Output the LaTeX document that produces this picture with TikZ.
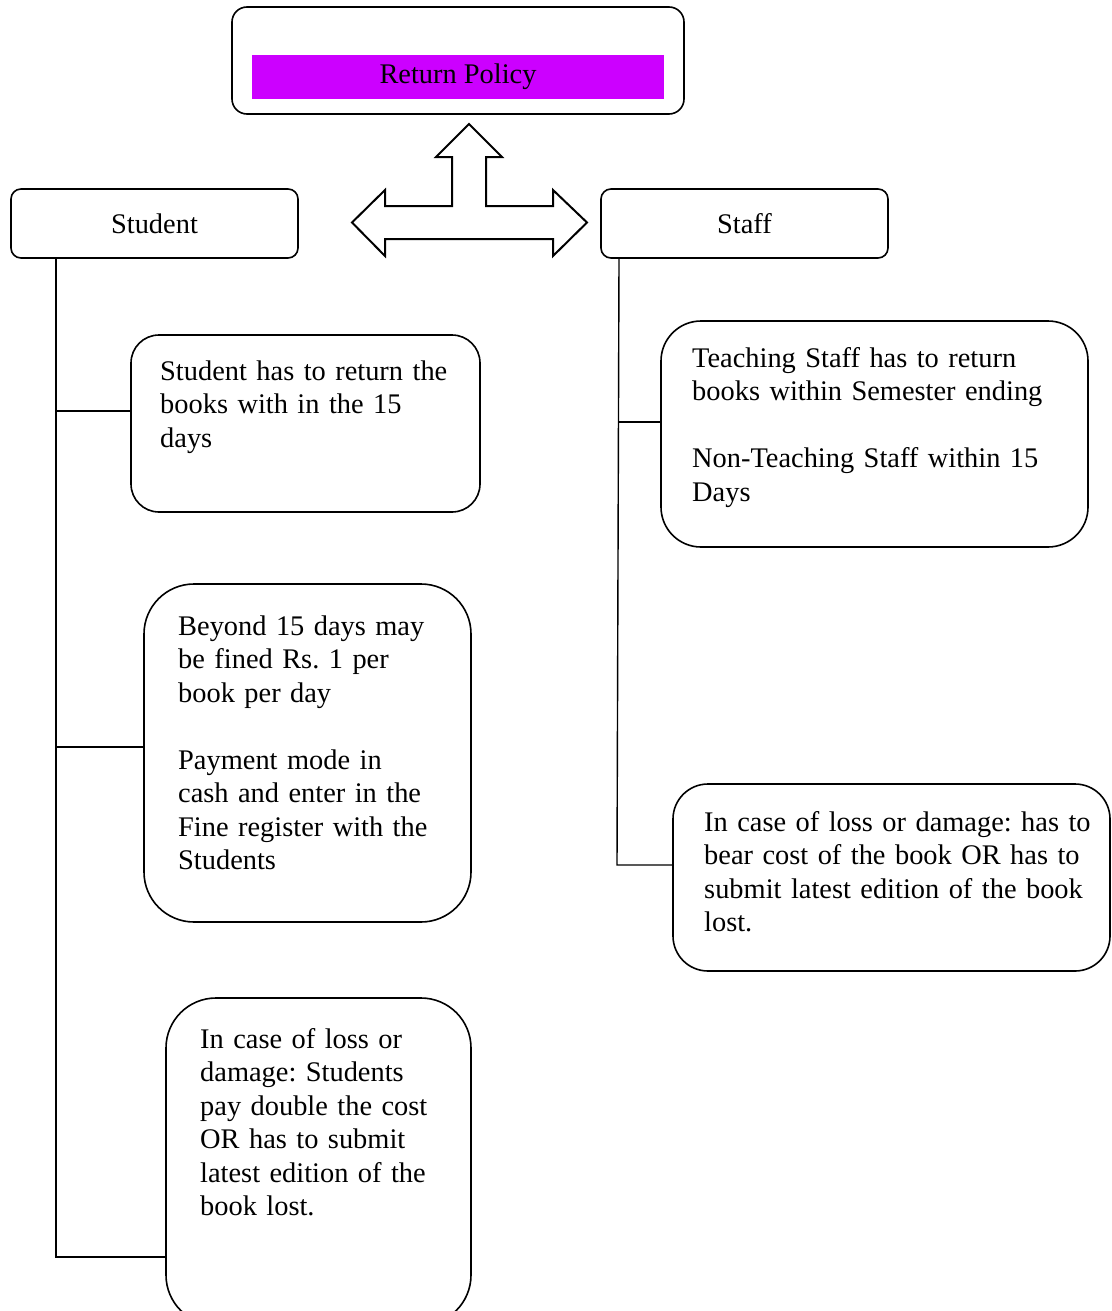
\documentclass[tikz,border=0pt]{standalone}
\usepackage{fontspec}
\setmainfont{Liberation Serif}
\frenchspacing
\definecolor{policy}{RGB}{204,0,255}
\begin{document}
\begin{tikzpicture}[x=1pt,y=-1pt,
  box/.style={draw, line width=1.6pt, inner sep=0pt},
  bigfont/.style={font=\fontsize{28.4}{33.5}\selectfont\frenchspacing},
  txt/.style={bigfont, align=left, text width=420pt, inner sep=0pt, anchor=base west},
  conn/.style={line width=1.4pt}]
\clip (0,0) rectangle (1111,1311);
\fill[white] (0,0) rectangle (1111,1311);
% title
\node[box, rounded corners=15pt, minimum width=452pt, minimum height=107pt] (top) at (458,60.5) {};
\node[fill=policy, minimum width=412pt, minimum height=44pt, inner sep=0pt, bigfont] (title) at (458,77) {Return Policy};
% category boxes
\node[box, rounded corners=10pt, minimum width=287pt, minimum height=69pt, bigfont] (stud) at (154.5,223.5) {Student};
\node[box, rounded corners=10pt, minimum width=287pt, minimum height=69pt, bigfont] (staff) at (744.5,223.5) {Staff};
% three-way arrow
\draw[line width=2pt, line join=miter] (469,124) -- (502,157) -- (486,157) -- (486,206) -- (553,206) -- (553,190) -- (587,222.5) -- (553,256) -- (553,239) -- (385,239) -- (385,256) -- (352,222.5) -- (385,190) -- (385,206) -- (452,206) -- (452,157) -- (436,157) -- cycle;
% detail boxes
\node[box, rounded corners=28pt, minimum width=349pt, minimum height=177pt] (b1) at (305.5,423.5) {};
\node[box, rounded corners=50pt, minimum width=327pt, minimum height=338pt] (b2) at (307.5,753) {};
\node[box, rounded corners=50pt, minimum width=305pt, minimum height=327pt] (b3) at (318.5,1161.5) {};
\node[box, rounded corners=40pt, minimum width=427pt, minimum height=226pt] (b4) at (874.5,434) {};
\node[box, rounded corners=35pt, minimum width=437pt, minimum height=187pt] (b5) at (891.5,877.5) {};
% texts
\node[txt] (t1) at (160,380) {Student has to return the\\books with in the 15\\days};
\node[txt] (t2) at (178,635) {Beyond 15 days may\\be fined Rs. 1 per\\book per day\\[33.5pt]Payment mode in\\cash and enter in the\\Fine register with the\\Students};
\node[txt] (t3) at (200,1048) {In case of loss or\\damage: Students\\pay double the cost\\OR has to submit\\latest edition of the\\book lost.};
\node[txt] (t4) at (692,367) {Teaching Staff has to return\\books within Semester ending\\[33.5pt]Non-Teaching Staff within 15\\Days};
\node[txt] (t5) at (704,831) {In case of loss or damage: has to\\bear cost of the book OR has to\\submit latest edition of the book\\lost.};
% connectors: student side
\coordinate (sB) at (56,1257);
\coordinate (j1) at (56,411);
\coordinate (j2) at (56,747);
\draw[conn] (stud.south -| sB) -- (sB) -- (sB -| b3.west);
\draw[conn] (j1) -- (j1 -| b1.west);
\draw[conn] (j2) -- (j2 -| b2.west);
% connectors: staff side
\coordinate (fA) at (619,258);
\coordinate (fB) at (617,865);
\coordinate (j3) at (618.5,422);
\draw[conn] (staff.south -| fA) -- (fB) -- (fB -| b5.west);
\draw[conn] (j3) -- (j3 -| b4.west);
\end{tikzpicture}
\end{document}
